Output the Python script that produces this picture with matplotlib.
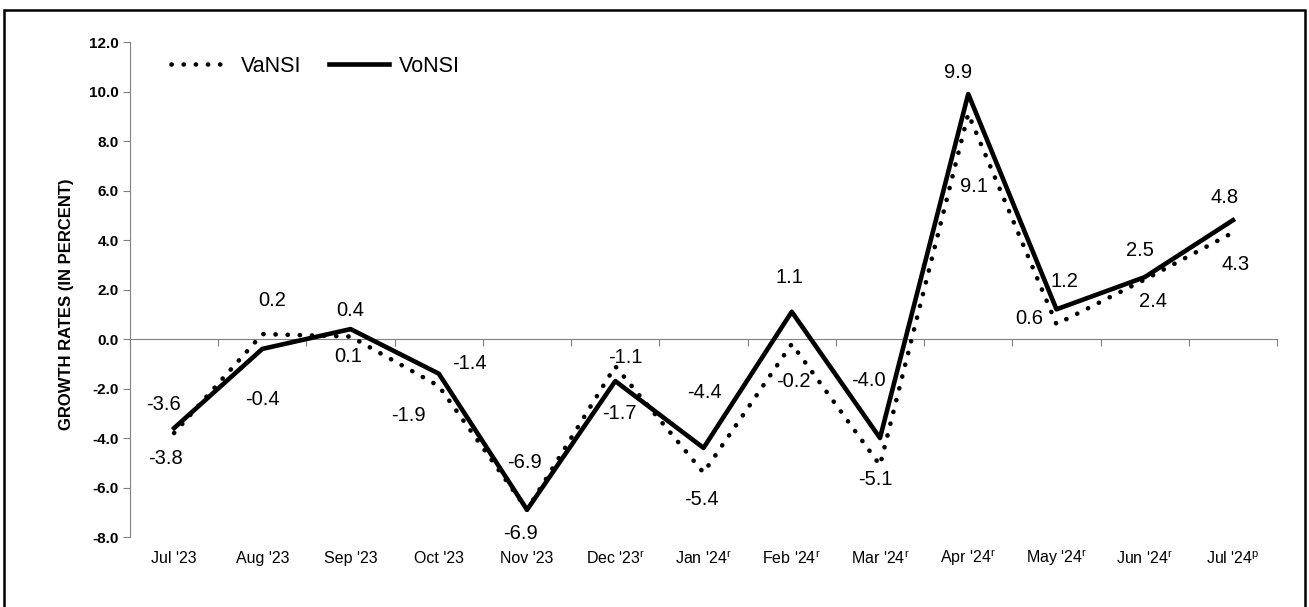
import matplotlib
matplotlib.use("Agg")
import matplotlib.pyplot as plt
from matplotlib.patches import Rectangle

plt.rcParams['font.family'] = ['Liberation Sans', 'DejaVu Sans']
plt.rcParams['mathtext.fontset'] = 'custom'
plt.rcParams['mathtext.rm'] = 'Liberation Sans'

# data
months = ["Jul '23", "Aug '23", "Sep '23", "Oct '23", "Nov '23", "Dec '23", "Jan '24",
          "Feb '24", "Mar '24", "Apr '24", "May '24", "Jun '24", "Jul '24"]
marks = ["", "", "", "", "", "r", "r", "r", "r", "r", "r", "r", "p"]
vansi = [-3.8, 0.2, 0.1, -1.9, -6.9, -1.1, -5.4, -0.2, -5.1, 9.1, 0.6, 2.4, 4.3]
vonsi = [-3.6, -0.4, 0.4, -1.4, -6.9, -1.7, -4.4, 1.1, -4.0, 9.9, 1.2, 2.5, 4.8]
yticks = [-8, -6, -4, -2, 0, 2, 4, 6, 8, 10, 12]

# label offsets (pixels)
va_off = [(-9, -25), (10, 34), (-2, -20), (-30, -29), (-7, -24), (10, 9), (-2, -27),
          (2, -38), (-5, -14), (6, -73), (-27, 6), (8, -22), (3, -32)]
vo_off = [(-11, 24), (0, -51), (0, 19), (31, 10), (-3, 47), (4, -32), (1, 55),
          (-2, 34), (-12, 58), (-10, 21), (8, 28), (-5, 27), (-8, 23)]

fig = plt.figure(figsize=(13.09, 6.07), dpi=100)
ax = fig.add_axes([0.0993, 0.1153, 0.8763, 0.8155])

x = list(range(len(months)))
ax.plot(x, vansi, color='black', lw=3.3, linestyle=(0, (0.05, 2.6)),
        dash_capstyle='round', solid_capstyle='round', label='VaNSI', zorder=3)
ax.plot(x, vonsi, color='black', lw=3.3, label='VoNSI', zorder=4)

for i in x:
    ax.annotate(f"{vansi[i]:.1f}", (i, vansi[i]), xytext=va_off[i], textcoords='offset pixels',
                ha='center', va='center', fontsize=14.5)
    ax.annotate(f"{vonsi[i]:.1f}", (i, vonsi[i]), xytext=vo_off[i], textcoords='offset pixels',
                ha='center', va='center', fontsize=14.5)

ax.set_xlim(-0.5, len(months) - 0.5)
ax.set_ylim(-8, 12)
ax.set_yticks(yticks)
ax.set_yticklabels([f"{v:.1f}" for v in yticks], fontweight='bold', fontsize=11)
ax.tick_params(axis='y', length=5, color='#808080', pad=3)

ax.spines['top'].set_visible(False)
ax.spines['right'].set_visible(False)
ax.spines['left'].set_color('#808080')
ax.spines['bottom'].set_color('#808080')
ax.spines['bottom'].set_position(('data', 0))
ax.set_xticks([i - 0.5 for i in range(len(months) + 1)])
ax.set_xticklabels([])
ax.tick_params(axis='x', length=5, color='#808080', direction='out')

for i, (m, s) in enumerate(zip(months, marks)):
    lab = m + (r"$^{\mathrm{" + s + "}}$" if s else "")
    ax.text(i, -0.043, lab, transform=ax.get_xaxis_transform(), ha='center', va='center',
            fontsize=11.5)

ax.set_ylabel("GROWTH RATES (IN PERCENT)", fontweight='bold', fontsize=12)
ax.yaxis.set_label_coords(-0.049, 0.47)

ax.legend(loc='upper left', bbox_to_anchor=(0.028, 0.99), borderaxespad=0, ncol=2,
          frameon=False, fontsize=15.5, handlelength=2.8, handletextpad=0.45,
          columnspacing=1.3)

fig.patches.append(Rectangle((0.003, -0.01), 0.994, 0.9935, transform=fig.transFigure,
                             fill=False, edgecolor='black', lw=1.8))

fig.savefig("out.png", dpi=100)
